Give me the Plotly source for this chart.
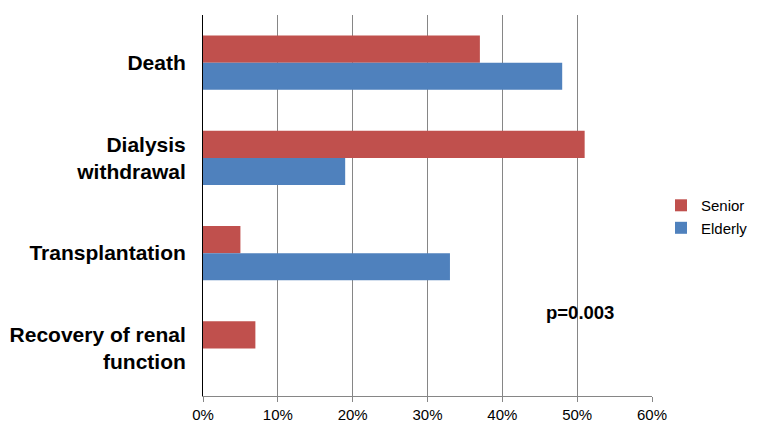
import plotly.graph_objects as go

categories = ["Death", "Dialysis<br>withdrawal", "Transplantation", "Recovery of renal<br>function"]
senior = [37, 51, 5, 7]
elderly = [48, 19, 33, 0]
x_ticks = [0, 10, 20, 30, 40, 50, 60]
x_tick_labels = ["0%", "10%", "20%", "30%", "40%", "50%", "60%"]

fig = go.Figure()
fig.add_trace(go.Bar(y=categories, x=senior, name="Senior", orientation="h",
                     marker=dict(color="#C0504D", line=dict(width=0))))
fig.add_trace(go.Bar(y=categories, x=elderly, name="Elderly", orientation="h",
                     marker=dict(color="#4F81BD", line=dict(width=0))))

fig.update_layout(
    width=760, height=440,
    margin=dict(l=195, r=116, t=7, b=52),
    plot_bgcolor="white", paper_bgcolor="white",
    barmode="group", bargap=0.43, bargroupgap=0,
    font=dict(family="Liberation Sans, Arial, sans-serif", color="black"),
    legend=dict(x=1.02, y=0.471, xanchor="left", yanchor="middle",
                font=dict(size=15), traceorder="normal", itemwidth=30),
    showlegend=True,
)
fig.update_xaxes(range=[0, 60], tickvals=x_ticks, ticktext=x_tick_labels,
                 showgrid=True, gridcolor="#868686", gridwidth=1,
                 showline=True, linecolor="#868686", linewidth=1,
                 ticks="outside", ticklen=5, tickcolor="#868686",
                 tickfont=dict(size=15), zeroline=False, automargin=False)
fig.update_yaxes(autorange="reversed", showline=True, linecolor="black", linewidth=1,
                 ticks="", tickfont=dict(size=21), ticklabelstandoff=12, automargin=False,
                 tickvals=categories, ticktext=["<b>" + c + "</b>" for c in categories])
fig.add_annotation(x=0.84, y=0.22, xref="paper", yref="paper", text="<b>p=0.003</b>",
                   showarrow=False, font=dict(size=18.5, color="black"),
                   xanchor="center", yanchor="middle")

fig.write_html("out.html")
